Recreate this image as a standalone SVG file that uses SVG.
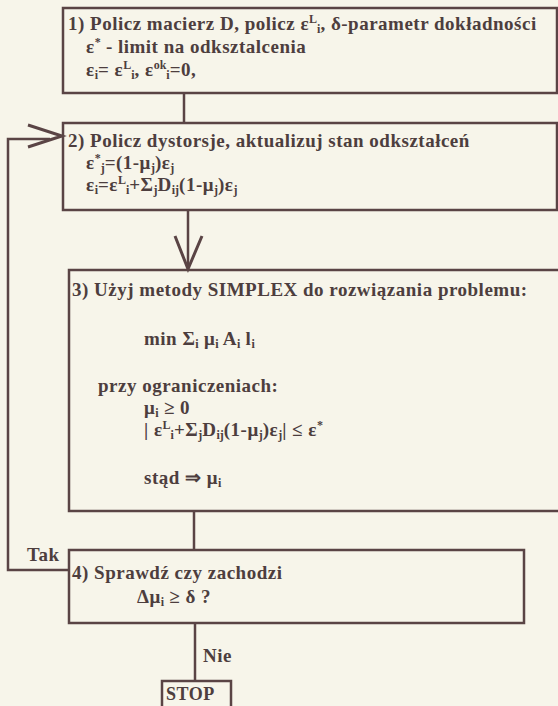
<svg xmlns="http://www.w3.org/2000/svg" width="558" height="706" viewBox="0 0 558 706">
<style>
.bg{fill:#f7f5ea}
.box{fill:none;stroke:#5a4445;stroke-width:2.5}
.ln{fill:none;stroke:#5a4445;stroke-width:2.5}
.ar{fill:none;stroke:#5a4445;stroke-width:3}
text{font-family:"Liberation Serif","Times New Roman",serif;font-weight:bold;font-size:19px;letter-spacing:0.5px;fill:#4d3e3e}
.s{font-size:12px;letter-spacing:0}
</style>
<rect class="bg" x="0" y="0" width="558" height="706"/>
<g id="connectors">
<line class="ln" x1="184" y1="93" x2="184" y2="123"/>
<line class="ln" x1="188" y1="210" x2="188" y2="268"/>
<polyline class="ar" points="175,236 188,269 202,236"/>
<line class="ln" x1="194" y1="511" x2="194" y2="550"/>
<line class="ln" x1="195" y1="623" x2="195" y2="681"/>
<polyline class="ln" points="69,570 8,570 8,139 50,139"/>
<polyline class="ar" points="28,125 62,136 28,147"/>
<text x="27" y="561">Tak</text>
<text x="203" y="662">Nie</text>
</g>
<g id="n1">
<rect class="box" x="63" y="8" width="494" height="85"/>
<text x="68" y="30">1) Policz macierz D, policz ε<tspan class="s" dy="-7">L</tspan><tspan class="s" dy="10">i</tspan><tspan dy="-3">, δ-parametr dokładności</tspan></text>
<text x="86" y="53">ε<tspan class="s" dy="-7">*</tspan><tspan dy="7"> - limit na odksztalcenia</tspan></text>
<text x="86" y="76">ε<tspan class="s" dy="3">i</tspan><tspan dy="-3">= ε</tspan><tspan class="s" dy="-7">L</tspan><tspan class="s" dy="10">i</tspan><tspan dy="-3">,  ε</tspan><tspan class="s" dy="-7">ok</tspan><tspan class="s" dy="10">i</tspan><tspan dy="-3">=0,</tspan></text>
</g>
<g id="n2">
<rect class="box" x="63" y="123" width="494" height="87"/>
<text x="68" y="147">2) Policz dystorsje, aktualizuj stan odkształceń</text>
<text x="86" y="169">ε<tspan class="s" dy="-7">*</tspan><tspan class="s" dy="10">j</tspan><tspan dy="-3">=(1-μ</tspan><tspan class="s" dy="3">j</tspan><tspan dy="-3">)ε</tspan><tspan class="s" dy="3">j</tspan></text>
<text x="86" y="191">ε<tspan class="s" dy="3">i</tspan><tspan dy="-3">=ε</tspan><tspan class="s" dy="-7">L</tspan><tspan class="s" dy="10">i</tspan><tspan dy="-3">+Σ</tspan><tspan class="s" dy="3">j</tspan><tspan dy="-3">D</tspan><tspan class="s" dy="3">ij</tspan><tspan dy="-3">(1-μ</tspan><tspan class="s" dy="3">j</tspan><tspan dy="-3">)ε</tspan><tspan class="s" dy="3">j</tspan></text>
</g>
<g id="n3">
<rect class="box" x="69" y="270" width="495" height="241"/>
<text x="72" y="296">3) Użyj metody SIMPLEX do rozwiązania problemu:</text>
<text x="144" y="345">min Σ<tspan class="s" dy="3">i</tspan><tspan dy="-3"> μ</tspan><tspan class="s" dy="3">i</tspan><tspan dy="-3"> A</tspan><tspan class="s" dy="3">i</tspan><tspan dy="-3"> l</tspan><tspan class="s" dy="3">i</tspan></text>
<text x="98" y="392">przy ograniczeniach:</text>
<text x="144" y="414">μ<tspan class="s" dy="3">i</tspan><tspan dy="-3"> ≥ 0</tspan></text>
<text x="144" y="436">| ε<tspan class="s" dy="-7">L</tspan><tspan class="s" dy="10">i</tspan><tspan dy="-3">+Σ</tspan><tspan class="s" dy="3">j</tspan><tspan dy="-3">D</tspan><tspan class="s" dy="3">ij</tspan><tspan dy="-3">(1-μ</tspan><tspan class="s" dy="3">j</tspan><tspan dy="-3">)ε</tspan><tspan class="s" dy="3">j</tspan><tspan dy="-3">| ≤ ε</tspan><tspan class="s" dy="-7">*</tspan></text>
<text x="144" y="484">stąd ⇒ μ<tspan class="s" dy="3">i</tspan></text>
</g>
<g id="n4">
<rect class="box" x="69" y="550" width="455" height="73"/>
<text x="72" y="579">4) Sprawdź czy zachodzi</text>
<text x="137" y="603">Δμ<tspan class="s" dy="3">i</tspan><tspan dy="-3"> ≥ δ ?</tspan></text>
</g>
<g id="stop">
<rect class="box" x="162" y="681" width="69" height="32"/>
<text x="166" y="700" style="font-size:18px">STOP</text>
</g>
</svg>
